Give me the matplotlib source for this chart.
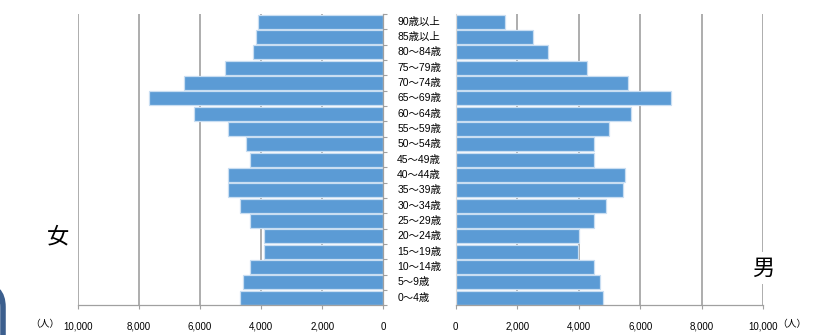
import matplotlib.pyplot as plt
import matplotlib.patches as mpatches
from matplotlib import font_manager

# ---------------------------------------------------------------
# data: population by age group (persons)
# ---------------------------------------------------------------

age_groups = [
    "0～4歳", "5～9歳", "10～14歳", "15～19歳", "20～24歳",
    "25～29歳", "30～34歳", "35～39歳", "40～44歳", "45～49歳",
    "50～54歳", "55～59歳", "60～64歳", "65～69歳", "70～74歳",
    "75～79歳", "80～84歳", "85歳以上", "90歳以上",
]

female = [
    4690, 4580, 4380, 3910, 3910,
    4380, 4690, 5100, 5100, 4380,
    4490, 5100, 6210, 7690, 6530,
    5190, 4270, 4180, 4100,
]

male = [
    4800, 4700, 4500, 3990, 4000,
    4500, 4900, 5430, 5490, 4500,
    4500, 4990, 5700, 7000, 5610,
    4280, 3000, 2520, 1600,
]

xticks = [0, 2000, 4000, 6000, 8000, 10000]

# ---------------------------------------------------------------
# fonts
# ---------------------------------------------------------------

names = {f.name for f in font_manager.fontManager.ttflist}
narrow = "Liberation Sans Narrow" if "Liberation Sans Narrow" in names else "Liberation Sans"
fam = [narrow, "Noto Sans CJK JP", "DejaVu Sans"]
plt.rcParams["font.family"] = fam

bar_color = "#5B9BD5"
edge_color = "#C9DEF2"
grid_color = "#A0A0A0"
spine_color = "#A0A0A0"

W, H = 818, 335
fig = plt.figure(figsize=(W / 100, H / 100), dpi=100)


def box(x0, x1, ytop, ybot):
    return [x0 / W, 1 - ybot / H, (x1 - x0) / W, (ybot - ytop) / H]


ax_f = fig.add_axes(box(78, 383.3, 14, 305.3))
ax_m = fig.add_axes(box(455.7, 763.3, 14, 305.3))

y = list(range(len(age_groups)))

ax_f.barh(y, female, height=0.9, color=bar_color, edgecolor=edge_color,
          linewidth=0.9, zorder=2)
ax_m.barh(y, male, height=0.9, color=bar_color, edgecolor=edge_color,
          linewidth=0.9, zorder=2)

ax_f.set_xlim(10000, 0)
ax_m.set_xlim(0, 10000)

for ax in (ax_f, ax_m):
    ax.set_ylim(-0.5, len(age_groups) - 0.5)
    ax.set_xticks(xticks)
    ax.set_xticklabels([f"{v:,}" for v in xticks])
    ax.tick_params(axis="x", direction="out", length=3, width=0.8,
                   color=spine_color, labelsize=7, pad=9)
    for v in xticks[1:]:
        ax.axvline(v, color=grid_color, linewidth=1.2, zorder=0)
    for s in ("top", "left", "right"):
        ax.spines[s].set_visible(False)
    ax.spines["bottom"].set_color(spine_color)
    ax.spines["bottom"].set_linewidth(0.9)
    ax.set_facecolor("none")

# female side: axis line at 0 with ticks between groups
ax_f.spines["right"].set_visible(True)
ax_f.spines["right"].set_color(spine_color)
ax_f.spines["right"].set_linewidth(0.9)
ax_f.yaxis.tick_right()
ax_f.set_yticks([i - 0.5 for i in range(len(age_groups) + 1)])
ax_f.set_yticklabels([])
ax_f.tick_params(axis="y", direction="out", length=3, width=0.8,
                 color=spine_color)

ax_m.spines["left"].set_visible(True)
ax_m.spines["left"].set_color("#D9D9D9")
ax_m.spines["left"].set_linewidth(0.8)
ax_m.set_yticks([])

# age group labels in the middle column
for i, lab in enumerate(age_groups):
    ax_f.annotate(lab, xy=(1, i), xycoords=("axes fraction", "data"),
                  xytext=(10, 0), textcoords="offset points",
                  ha="left", va="center", fontsize=7.5, family=fam)

# unit labels
fig.text(30 / W, 1 - 324 / H, "（人）", ha="left", va="center",
         fontsize=7, family=fam)
fig.text(777 / W, 1 - 324 / H, "（人）", ha="left", va="center",
         fontsize=7, family=fam)

# sex labels
fig.text(58 / W, 1 - 237 / H, "女", ha="center", va="center",
         fontsize=16, family=["Noto Sans CJK JP"])
fig.text(763 / W, 1 - 268 / H, "男", ha="center", va="center",
         fontsize=16, family=["Noto Sans CJK JP"],
         bbox=dict(facecolor="white", edgecolor="none", pad=3))

# frame edge at lower left
frame = mpatches.FancyBboxPatch((-2.0, -0.5), 2.03, 1.0,
                                boxstyle="round,pad=0,rounding_size=0.22",
                                transform=fig.dpi_scale_trans,
                                facecolor="none", edgecolor="#3C5F8E",
                                linewidth=4, clip_on=False)
fig.patches.append(frame)

fig.savefig("out.png", dpi=100)
